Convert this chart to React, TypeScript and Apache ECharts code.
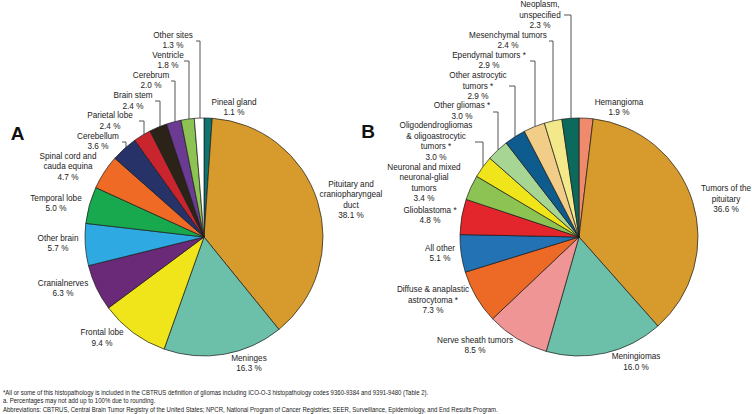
import React, { useEffect, useRef } from "react";
import * as echarts from "echarts";

// Panel A: by site
const siteNames = [
  "Pineal gland",
  "Pituitary and\ncraniopharyngeal\nduct",
  "Meninges",
  "Frontal lobe",
  "Cranialnerves",
  "Other brain",
  "Temporal lobe",
  "Spinal cord and\ncauda equina",
  "Cerebellum",
  "Parietal lobe",
  "Brain stem",
  "Cerebrum",
  "Ventricle",
  "Other sites",
];
const siteValues = [1.1, 38.1, 16.3, 9.4, 6.3, 5.7, 5.0, 4.7, 3.6, 2.4, 2.4, 2.0, 1.8, 1.3];
const siteColors = [
  "#0e7470", "#d69a2d", "#6cc0aa", "#f0e51b", "#6b2a78", "#2fa9e1", "#18a94f",
  "#ee6a25", "#273268", "#c9252e", "#2b2318", "#6b3b93", "#8dc353", "#ffffff",
];

// Panel B: by histopathology
const histNames = [
  "Hemangioma",
  "Tumors of the\npituitary",
  "Meningiomas",
  "Nerve sheath tumors",
  "Diffuse & anaplastic\nastrocytoma *",
  "All other",
  "Glioblastoma *",
  "Neuronal and mixed\nneuronal-glial\ntumors",
  "Oligodendrogliomas\n& oligoastrocytic\ntumors *",
  "Other gliomas *",
  "Other astrocytic\ntumors *",
  "Ependymal tumors *",
  "Mesenchymal tumors",
  "Neoplasm,\nunspecified",
];
const histValues = [1.9, 36.6, 16.0, 8.5, 7.3, 5.1, 4.8, 3.4, 3.0, 3.0, 2.9, 2.9, 2.4, 2.3];
const histColors = [
  "#f08a6c", "#d69a2d", "#6cc0aa", "#ef9596", "#ec6a25", "#2372b3", "#e3262b",
  "#8dc353", "#f0e51b", "#a7d594", "#0d5c8d", "#f2cd88", "#f3e88a", "#0b6a5b",
];

const footnotes = [
  "*All or some of this histopathology is included in the CBTRUS definition of gliomas including ICO-O-3 histopathology codes 9360-9384 and 9391-9480 (Table 2).",
  "a. Percentages may not add up to 100% due to rounding.",
  "Abbreviations: CBTRUS, Central Brain Tumor Registry of the United States; NPCR, National Program of Cancer Registries; SEER, Surveillance, Epidemiology, and End Results Program.",
];

// layout
const R = 119;
const centerA = [204, 237];
const centerB = [579, 237];
const siteLabelPos = [
  [234, 107.5], [351, 200], [249, 363.5], [102, 338], [63, 288.5], [58, 243.5], [56, 203.5],
  [68, 166.5], [98, 141.5], [110, 121], [133, 101], [151, 80.5], [168, 60.5], [173, 40.5],
];
const histLabelPos = [
  [619, 107.5], [726, 199], [636, 362], [475, 345.5], [433, 300], [440, 253.5], [430, 215.5],
  [424, 183], [436, 141.5], [462, 111], [478, 86], [489, 60.5], [508, 40.5], [540, 15],
];
// [y, x1, x2]
const siteLeaders = [[142, 122, 126], [121, 139, 144], [101, 155, 160], [81, 171, 175], [61, 184, 189], [41, 196, 200]];
const histLeaders = [[142, 475, 483], [112, 493, 498], [86, 509, 515], [61, 530, 535], [41, 549, 553], [15, 564, 571]];

const FONT = "'Liberation Sans', Arial, Helvetica, sans-serif";

function makePie(names: string[], values: number[], colors: string[], center: number[], pos: number[][]) {
  return {
    type: "pie",
    center,
    radius: [0, R],
    startAngle: 90,
    clockwise: true,
    avoidLabelOverlap: false,
    silent: true,
    data: names.map((n, i) => ({ name: n, value: values[i], itemStyle: { color: colors[i] } })),
    itemStyle: { borderColor: "#1a1a1a", borderWidth: 0.7 },
    label: {
      show: true,
      position: "outside",
      formatter: (p: any) => `${p.name}\n${Number(p.value).toFixed(1)} %`,
      fontFamily: FONT,
      fontSize: 8.2,
      lineHeight: 10.5,
      color: "#222",
      align: "center",
    },
    labelLine: { show: false },
    labelLayout: (params: any) => {
      const p = pos[params.dataIndex];
      return { x: p[0], y: p[1], align: "center", verticalAlign: "middle" };
    },
  };
}

function leaderGraphics(leaders: number[][], center: number[]) {
  return leaders.map(([y, x1, x2]) => {
    const dx = x2 - center[0];
    const yEdge = center[1] - Math.sqrt(R * R - dx * dx);
    return {
      type: "polyline",
      shape: { points: [[x1, y], [x2, y], [x2, yEdge]] },
      style: { stroke: "#555", lineWidth: 1, fill: null },
      silent: true,
    };
  });
}

export default function App() {
  const ref = useRef<HTMLDivElement>(null);
  useEffect(() => {
    document.body.style.margin = "0";
    const chart = echarts.init(ref.current!, undefined, { renderer: "svg" });
    chart.setOption({
      animation: false,
      backgroundColor: "#ffffff",
      series: [
        makePie(siteNames, siteValues, siteColors, centerA, siteLabelPos),
        makePie(histNames, histValues, histColors, centerB, histLabelPos),
      ],
      graphic: [
        ...leaderGraphics(siteLeaders, centerA),
        ...leaderGraphics(histLeaders, centerB),
        {
          type: "text",
          x: 17.5,
          y: 133.5,
          style: { text: "A", font: `bold 19px ${FONT}`, fill: "#111", align: "center", verticalAlign: "middle" },
        },
        {
          type: "text",
          x: 368,
          y: 131.5,
          style: { text: "B", font: `bold 19px ${FONT}`, fill: "#111", align: "center", verticalAlign: "middle" },
        },
        ...footnotes.map((t, i) => ({
          type: "text",
          x: 3,
          y: [392, 400.5, 409][i],
          scaleX: 0.86,
          style: { text: t, font: `7px ${FONT}`, fill: "#222", align: "left", verticalAlign: "middle" },
        })),
      ],
    });
    return () => chart.dispose();
  }, []);
  return <div ref={ref} style={{ position: "absolute", left: 0, top: 0, width: 752, height: 414 }} />;
}
